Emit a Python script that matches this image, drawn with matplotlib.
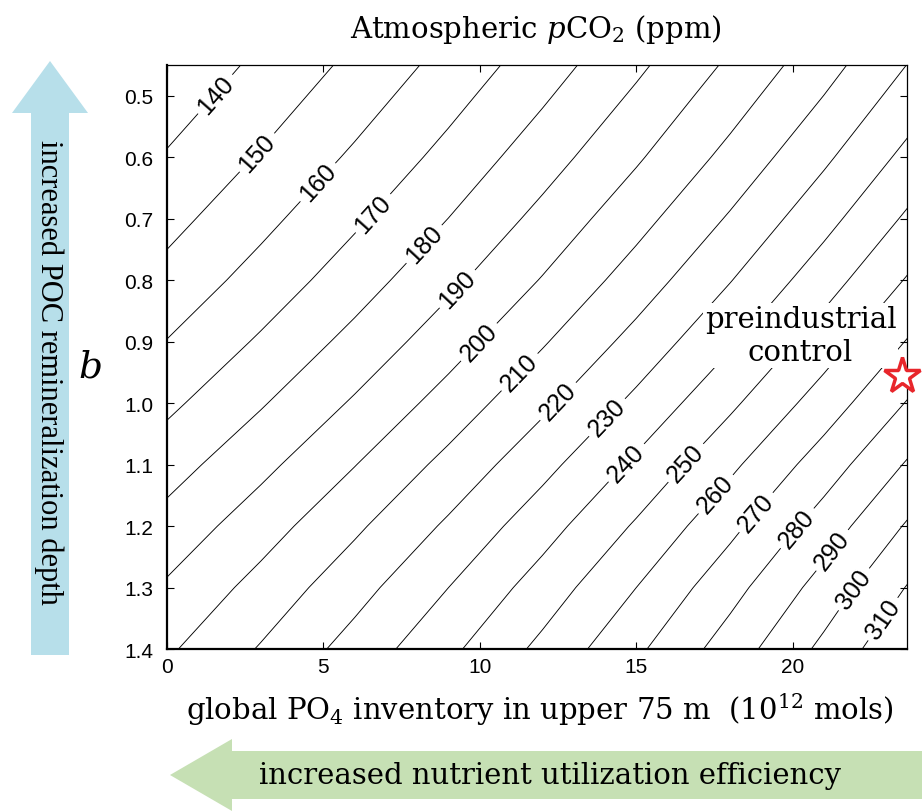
import numpy as np
import matplotlib
matplotlib.use("Agg")
import matplotlib.pyplot as plt
from matplotlib.patches import FancyArrow
from matplotlib.ticker import FormatStrFormatter

# global PO4 inventory in upper 75 m (1e12 mol) and Martin-curve exponent b
po4 = [0, 3, 6, 9, 12, 15, 18, 21, 24]
b_vals = [0.4, 0.5, 0.6, 0.7, 0.8, 0.9, 1.0, 1.1, 1.2, 1.3, 1.4]

# atmospheric pCO2 (ppm), one row per b value, one column per po4 value
pco2 = [
    [129.8, 139.3, 149.4, 160.3, 172.0, 184.5, 198.0, 212.4, 227.9],
    [135.1, 144.9, 155.3, 166.6, 178.6, 191.5, 205.3, 220.1, 236.0],
    [140.8, 150.8, 161.6, 173.1, 185.5, 198.7, 212.9, 228.2, 244.5],
    [146.8, 157.2, 168.3, 180.1, 192.9, 206.5, 221.1, 236.7, 253.4],
    [153.2, 163.9, 175.3, 187.6, 200.6, 214.6, 229.6, 245.6, 262.7],
    [160.3, 171.3, 183.0, 195.6, 209.0, 223.3, 238.6, 255.0, 272.5],
    [167.8, 179.1, 191.2, 204.0, 217.8, 232.4, 248.1, 264.7, 282.6],
    [175.7, 187.3, 199.7, 212.9, 226.9, 241.9, 257.9, 274.9, 293.0],
    [183.6, 195.5, 208.2, 221.6, 235.9, 251.2, 267.4, 284.7, 303.1],
    [191.3, 203.4, 216.3, 230.0, 244.5, 260.0, 276.5, 294.0, 312.6],
    [198.5, 210.8, 223.9, 237.8, 252.5, 268.1, 284.7, 302.4, 321.1],
]
levels = [140, 150, 160, 170, 180, 190, 200, 210, 220, 230,
          240, 250, 260, 270, 280, 290, 300, 310]

# preindustrial control run
pi_po4 = 23.5
pi_b = 0.956

plt.rcParams['font.family'] = ['Liberation Sans', 'DejaVu Sans']
plt.rcParams['mathtext.fontset'] = 'dejavuserif'
serif = ['DejaVu Serif']
narrow_serif = ['Liberation Serif', 'DejaVu Serif']

fig = plt.figure(figsize=(9.22, 8.12), dpi=100)
ax = fig.add_axes([0.1811, 0.1995, 0.8026, 0.7192])

X, Y = np.meshgrid(po4, b_vals)
Z = np.array(pco2)

ax.set_xlim(0, 23.65)
ax.set_ylim(1.4, 0.45)

cs = ax.contour(X, Y, Z, levels=levels, colors='k', linewidths=0.65)

# where the labels sit along each contour
label_pos = [(1.6, 0.50), (3.0, 0.598), (5.0, 0.649), (6.8, 0.701),
             (8.4, 0.75), (9.4, 0.82), (10.2, 0.912), (11.5, 0.961),
             (12.6, 1.002), (14.2, 1.03), (14.8, 1.103), (16.7, 1.103),
             (17.6, 1.151), (18.9, 1.181), (20.2, 1.206), (21.3, 1.241),
             (21.9, 1.301), (22.9, 1.352)]
ax.clabel(cs, fmt='%d', fontsize=18, inline=True, inline_spacing=5,
          manual=label_pos)

ax.plot(pi_po4, pi_b, marker='*', ms=27, mfc='white', mec='#e8262b',
        mew=2.5, clip_on=False, zorder=6)
ax.text(20.25, 0.89, 'preindustrial\ncontrol', ha='center', va='center',
        fontfamily=serif, fontsize=21, linespacing=1.25, zorder=5,
        bbox=dict(facecolor='white', edgecolor='none', pad=1))

ax.set_xticks([0, 5, 10, 15, 20])
ax.set_yticks([0.5, 0.6, 0.7, 0.8, 0.9, 1.0, 1.1, 1.2, 1.3, 1.4])
ax.yaxis.set_major_formatter(FormatStrFormatter('%.1f'))
ax.tick_params(direction='in', top=True, right=True, length=5, width=0.8,
               labelsize=15)
ax.tick_params(axis='y', pad=10)
ax.tick_params(axis='x', pad=6)
for s in ['left', 'bottom']:
    ax.spines[s].set_linewidth(1.6)
for s in ['top', 'right']:
    ax.spines[s].set_linewidth(0.9)

fig.text(536 / 922, 1 - 30 / 812, r'Atmospheric $p$CO$_2$ (ppm)',
         ha='center', va='center', fontfamily=serif, fontsize=21)
fig.text(540 / 922, 1 - 710 / 812,
         r'global PO$_4$ inventory in upper 75 m  (10$^{12}$ mols)',
         ha='center', va='center', fontfamily=serif, fontsize=21)
fig.text(90 / 922, 1 - 368 / 812, r'$b$', ha='center', va='center',
         fontsize=27)

# blue arrow on the left
fig.patches.append(FancyArrow(50 / 922, 1 - 656 / 812, 0, (656 - 62) / 812,
                              width=38 / 922, head_width=76 / 922,
                              head_length=52 / 812, length_includes_head=True,
                              transform=fig.transFigure, color='#b7dfea',
                              lw=0, figure=fig))
fig.text(49 / 922, 1 - 372 / 812, 'increased POC remineralization depth',
         rotation=270, ha='center', va='center', fontfamily=narrow_serif,
         fontsize=22)

# green arrow at the bottom
fig.patches.append(FancyArrow(922 / 922, 1 - 776 / 812, -(922 - 170) / 922, 0,
                              width=48 / 812, head_width=72 / 812,
                              head_length=62 / 922, length_includes_head=True,
                              transform=fig.transFigure, color='#c6e0b4',
                              lw=0, figure=fig))
fig.text(550 / 922, 1 - 776 / 812, 'increased nutrient utilization efficiency',
         ha='center', va='center', fontfamily=serif, fontsize=21)

fig.savefig('out.png', dpi=100)
